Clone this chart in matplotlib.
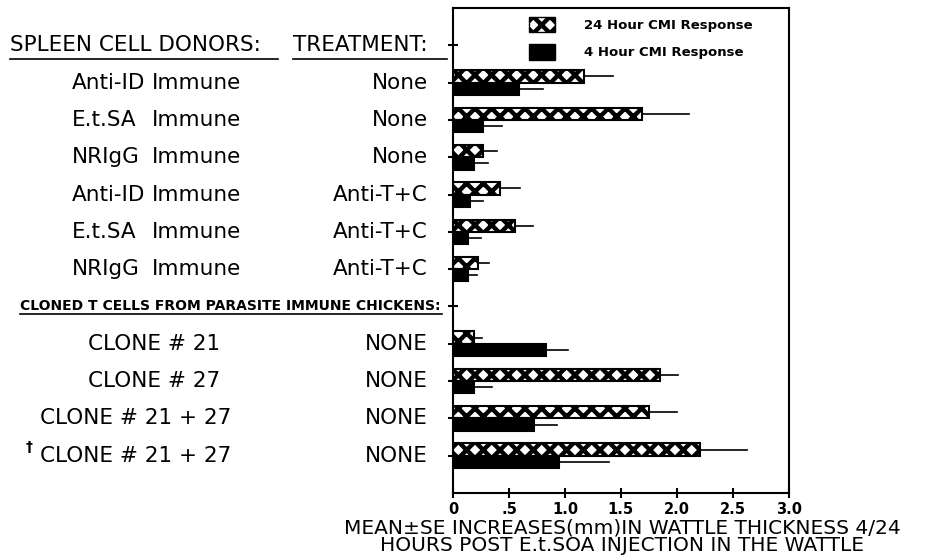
import numpy as np
import matplotlib
matplotlib.use('Agg')
import matplotlib.pyplot as plt
import matplotlib.transforms as mtransforms
from matplotlib.patches import Patch

# row labels
donors = ['Anti-ID', 'E.t.SA', 'NRIgG', 'Anti-ID', 'E.t.SA', 'NRIgG']
cells = ['Immune', 'Immune', 'Immune', 'Immune', 'Immune', 'Immune']
treatments = ['None', 'None', 'None', 'Anti-T+C', 'Anti-T+C', 'Anti-T+C']
clones = ['CLONE # 21', 'CLONE # 27', 'CLONE # 21 + 27', 'CLONE # 21 + 27']
clone_treat = ['NONE', 'NONE', 'NONE', 'NONE']

# values (mm)
h24 = [1.17, 1.69, 0.27, 0.42, 0.55, 0.22, 0.19, 1.85, 1.75, 2.21]
h24_se = [0.26, 0.42, 0.12, 0.18, 0.16, 0.10, 0.07, 0.16, 0.25, 0.42]
h4 = [0.59, 0.27, 0.19, 0.15, 0.13, 0.13, 0.83, 0.19, 0.72, 0.95]
h4_se = [0.21, 0.17, 0.12, 0.12, 0.12, 0.08, 0.20, 0.16, 0.21, 0.44]

xticks = [0, 0.5, 1.0, 1.5, 2.0, 2.5, 3.0]
xticklabels = ['0', '.5', '1.0', '1.5', '2.0', '2.5', '3.0']

plt.rcParams['hatch.linewidth'] = 3.2
plt.rcParams['font.family'] = 'DejaVu Sans'

fig = plt.figure(figsize=(9.4, 5.56), dpi=100)
ax = fig.add_axes([0.482, 0.1133, 0.357, 0.8723])

rows = np.array([1, 2, 3, 4, 5, 6, 8, 9, 10, 11])
bh = 0.33
ax.barh(rows - bh / 2, h24, height=bh, color='white', edgecolor='black',
        hatch='xx', linewidth=1.5)
ax.barh(rows + bh / 2, h4, height=bh, color='black', edgecolor='black',
        linewidth=1.5)
for y, v, e in zip(rows - bh / 2, h24, h24_se):
    ax.plot([v, v + e], [y, y], color='black', lw=1.2)
for y, v, e in zip(rows + bh / 2, h4, h4_se):
    ax.plot([v, v + e], [y, y], color='black', lw=1.2)

ax.set_xlim(0, 3.0)
ax.set_ylim(12, -1)
ax.set_xticks(xticks)
ax.set_xticklabels(xticklabels, fontsize=10.5, fontweight='bold')
ax.set_yticks(range(12))
ax.set_yticklabels([])
ax.tick_params(axis='both', direction='inout', length=7, width=1.5)
ax.tick_params(axis='x', pad=3)
for s in ax.spines.values():
    s.set_linewidth(1.5)

leg = ax.legend(handles=[
    Patch(facecolor='white', edgecolor='black', hatch='xx', label='24 Hour CMI Response'),
    Patch(facecolor='black', edgecolor='black', label='4 Hour CMI Response')],
    loc='upper left', bbox_to_anchor=(0.2, 1.0), frameon=False,
    prop={'size': 9.5, 'weight': 'bold'}, handlelength=1.9, handleheight=1.4,
    labelspacing=0.9, handletextpad=2.2, borderaxespad=0.3)

# left-hand labels: figure x, data y
tr = mtransforms.blended_transform_factory(fig.transFigure, ax.transData)
fs = 15.5
W = 940.0
H = 556.0
ax.text(10 / W, 0, 'SPLEEN CELL DONORS:', transform=tr, fontsize=fs,
        va='center', ha='left', clip_on=False)
ax.text(293 / W, 0, 'TREATMENT:', transform=tr, fontsize=fs,
        va='center', ha='left', clip_on=False)
ax.plot([10 / W, 278 / W], [0.38, 0.38], transform=tr, color='black', lw=1.2, clip_on=False)
ax.plot([293 / W, 447 / W], [0.38, 0.38], transform=tr, color='black', lw=1.2, clip_on=False)

for i in range(6):
    y = rows[i]
    ax.text(72 / W, y, donors[i], transform=tr, fontsize=fs, va='center', ha='left')
    ax.text(152 / W, y, cells[i], transform=tr, fontsize=fs, va='center', ha='left')
    ax.text(428 / W, y, treatments[i], transform=tr, fontsize=fs, va='center', ha='right')

ax.text(20 / W, 7, 'CLONED T CELLS FROM PARASITE IMMUNE CHICKENS:', transform=tr,
        fontsize=10, fontweight='bold', va='center', ha='left')
ax.plot([20 / W, 442 / W], [7.19, 7.19], transform=tr, color='black', lw=1.2, clip_on=False)

clone_x = [88, 88, 40, 40]
for i in range(4):
    y = rows[6 + i]
    ax.text(clone_x[i] / W, y, clones[i], transform=tr, fontsize=fs, va='center', ha='left')
    ax.text(428 / W, y, clone_treat[i], transform=tr, fontsize=fs, va='center', ha='right')
ax.text(26 / W, rows[-1] - 0.22, '†', transform=tr, fontsize=10, fontweight='bold',
        va='center', ha='left')

fig.text(622 / W, 1 - 533 / H, 'MEAN±SE INCREASES(mm)IN WATTLE THICKNESS 4/24',
         fontsize=14.5, ha='center', va='baseline')
fig.text(622 / W, 1 - 551 / H, 'HOURS POST E.t.SOA INJECTION IN THE WATTLE',
         fontsize=14.5, ha='center', va='baseline')

fig.savefig('out.png', dpi=100)
